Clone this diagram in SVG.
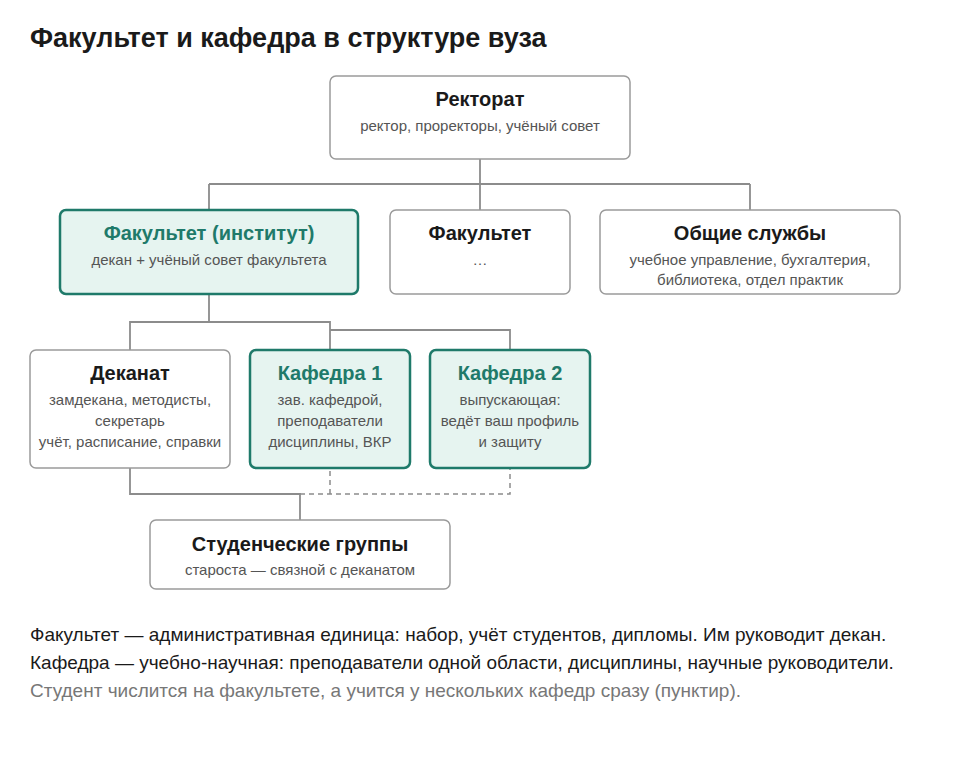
<svg xmlns="http://www.w3.org/2000/svg" width="960" height="760" viewBox="0 0 960 760">
<style>
text{font-family:"Liberation Sans",Arial,sans-serif}
.box{fill:#fff;stroke:#9a9a9a;stroke-width:1.5}
.hi{fill:#e6f4f0;stroke:#1f7a6a;stroke-width:2.5}
.t{font-size:20px;font-weight:bold;fill:#1a1a1a;text-anchor:middle}
.th{font-size:20px;font-weight:bold;fill:#1f7a6a;text-anchor:middle}
.s{font-size:15px;fill:#555;text-anchor:middle}
.c{fill:none;stroke:#8c8c8c;stroke-width:1.8}
.d{fill:none;stroke:#8c8c8c;stroke-width:1.5;stroke-dasharray:5 4}
.f{font-size:19px;fill:#1a1a1a}
</style>
<rect width="960" height="760" fill="#fff"/>
<text x="30" y="47" font-size="27" font-weight="bold" fill="#1a1a1a">Факультет и кафедра в структуре вуза</text>
<g id="connectors">
<path class="c" d="M480 159V184M209 184H750M209 184V210M480 184V210M750 184V210"/>
<path class="c" d="M209 294V322H130V350M209 322H330V350M330 330H510V350"/>
<path class="c" d="M130 468V494H300V520"/>
<path class="d" d="M300 494H510V468M330 494V468"/>
</g>
<g id="rektorat"><rect class="box" x="330" y="76" width="300" height="83" rx="6"/><text class="t" x="480" y="106">Ректорат</text><text class="s" x="480" y="131">ректор, проректоры, учёный совет</text></g>
<g id="fac-inst"><rect class="hi" x="60" y="210" width="298" height="84" rx="6"/><text class="th" x="209" y="240">Факультет (институт)</text><text class="s" x="209" y="265">декан + учёный совет факультета</text></g>
<g id="fac"><rect class="box" x="390" y="210" width="180" height="84" rx="6"/><text class="t" x="480" y="240">Факультет</text><text class="s" x="480" y="265">…</text></g>
<g id="services"><rect class="box" x="600" y="210" width="300" height="84" rx="6"/><text class="t" x="750" y="240">Общие службы</text><text class="s" x="750" y="265">учебное управление, бухгалтерия,</text><text class="s" x="750" y="285">библиотека, отдел практик</text></g>
<g id="deanat"><rect class="box" x="30" y="350" width="200" height="118" rx="6"/><text class="t" x="130" y="380">Деканат</text><text class="s" x="130" y="405">замдекана, методисты,</text><text class="s" x="130" y="426">секретарь</text><text class="s" x="130" y="447">учёт, расписание, справки</text></g>
<g id="kaf1"><rect class="hi" x="250" y="350" width="160" height="118" rx="6"/><text class="th" x="330" y="380">Кафедра 1</text><text class="s" x="330" y="405">зав. кафедрой,</text><text class="s" x="330" y="426">преподаватели</text><text class="s" x="330" y="447">дисциплины, ВКР</text></g>
<g id="kaf2"><rect class="hi" x="430" y="350" width="160" height="118" rx="6"/><text class="th" x="510" y="380">Кафедра 2</text><text class="s" x="510" y="405">выпускающая:</text><text class="s" x="510" y="426">ведёт ваш профиль</text><text class="s" x="510" y="447">и защиту</text></g>
<g id="students"><rect class="box" x="150" y="520" width="300" height="69" rx="6"/><text class="t" x="300" y="551">Студенческие группы</text><text class="s" x="300" y="575">староста — связной с деканатом</text></g>
<text class="f" x="30" y="641">Факультет — административная единица: набор, учёт студентов, дипломы. Им руководит декан.</text>
<text class="f" x="30" y="669">Кафедра — учебно-научная: преподаватели одной области, дисциплины, научные руководители.</text>
<text class="f" x="30" y="697" style="fill:#777">Студент числится на факультете, а учится у нескольких кафедр сразу (пунктир).</text>
</svg>
